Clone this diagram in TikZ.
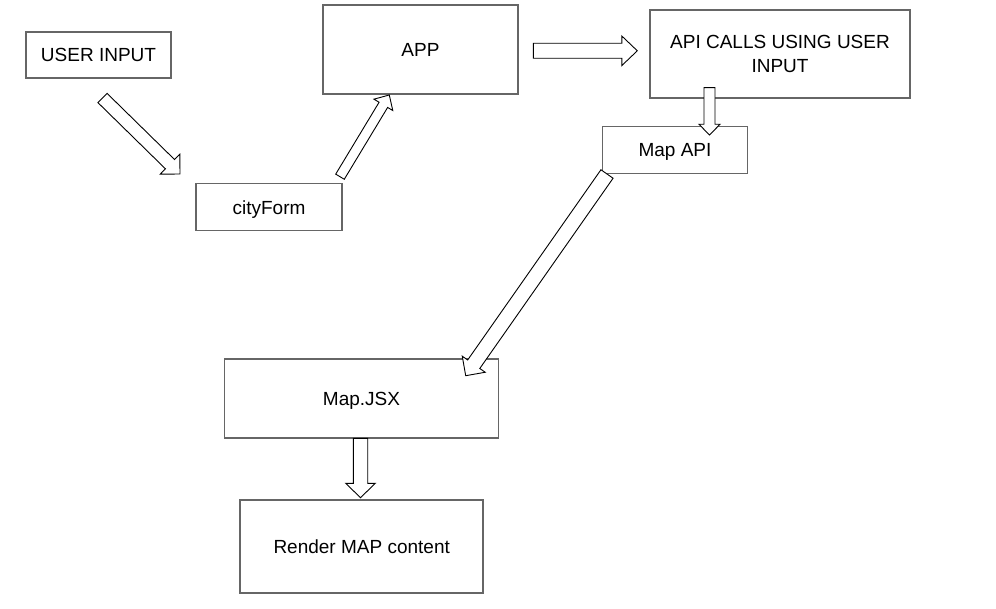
\documentclass[tikz,border=0pt]{standalone}
\usepackage{fontspec}
\setmainfont{Liberation Sans}
\usetikzlibrary{calc}

\definecolor{boxgray}{RGB}{102,102,102}

\tikzset{
    box/.style={draw=boxgray, line width=1.6pt, fill=white, inner sep=0pt,
        font=\fontsize{19}{23.3}\selectfont},
    oneline/.style={box, text height=13.7pt, text depth=0pt},
    hollow/.style={draw=black, line width=0.9pt, fill=white, line join=miter},
}

% #1 tail, #2 tip, #3 half shaft, #4 half head, #5 head length
\newcommand{\hollowarrow}[5]{%
    \coordinate (hb) at ($(#2)!#5!(#1)$);
    \draw[hollow] ($(#1)!#3!90:(#2)$) -- ($(hb)!#3!-90:(#1)$) -- ($(hb)!#4!-90:(#1)$)
        -- (#2) -- ($(hb)!#4!90:(#1)$) -- ($(hb)!#3!90:(#1)$) -- ($(#1)!#3!-90:(#2)$) -- cycle;
}

\begin{document}
\begin{tikzpicture}[x=1pt, y=-1pt]
        \useasboundingbox (0,0) rectangle (996,609);

        \node[oneline, minimum width=145pt, minimum height=46pt] (uinput) at (98.5,55) {USER INPUT};
        \node[oneline, minimum width=195pt, minimum height=89pt] (app) at (420.5,49.5) {APP};
        \node[box, align=center, minimum width=260pt, minimum height=88pt] (apicalls) at (780,54) {API CALLS USING USER\\INPUT};
        \node[oneline, minimum width=145pt, minimum height=47pt] (mapapi) at (675,150) {Map API};
        \node[oneline, minimum width=146pt, minimum height=47pt] (cityform) at (269,207.2) {cityForm};
        \node[oneline, minimum width=274pt, minimum height=79pt] (mapjsx) at (361.5,398.3) {Map.JSX};
        \node[oneline, minimum width=243pt, minimum height=93pt] (render) at (361.7,546.7) {Render MAP content};

        \coordinate (uinput-out) at (102.5,98);
        \coordinate (cityform-in) at (180,174);
        \coordinate (cityform-out) at (340,176.7);
        \coordinate (app-in) at (389.3,95);
        \coordinate (app-out) at (533.3,50.8);
        \coordinate (apicalls-in) at (637.3,50.8);
        \coordinate (apicalls-out) at (709.5,87.7);
        \coordinate (mapapi-in) at (709.5,135);
        \coordinate (mapapi-out) at (607,174);
        \coordinate (mapjsx-in) at (465.7,375.7);
        \coordinate (mapjsx-out) at (360.5,438.3);
        \coordinate (render-in) at (360.5,497.7);

        \hollowarrow{uinput-out}{cityform-in}{6.5pt}{14pt}{14pt}
        \hollowarrow{cityform-out}{app-in}{5pt}{11pt}{11.5pt}
        \hollowarrow{app-out}{apicalls-in}{7.5pt}{14.8pt}{15.5pt}
        \hollowarrow{apicalls-out}{mapapi-in}{5.5pt}{10.5pt}{10.7pt}
        \hollowarrow{mapapi-out}{mapjsx-in}{7.4pt}{14pt}{14pt}
        \hollowarrow{mapjsx-out}{render-in}{7.2pt}{14.7pt}{14.3pt}
    \end{tikzpicture}
\end{document}
